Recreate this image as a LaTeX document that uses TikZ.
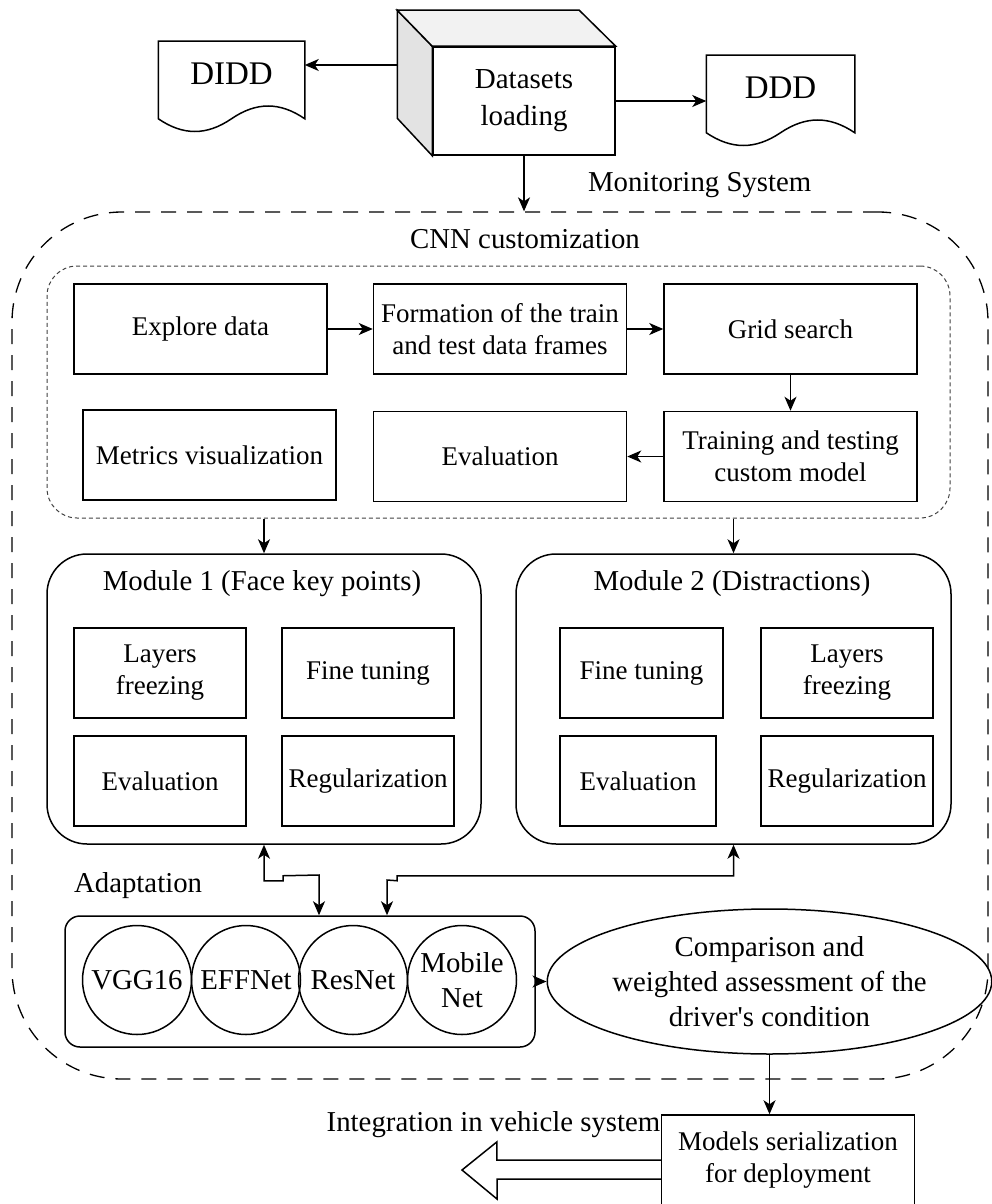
\documentclass[tikz,border=0pt]{standalone}
\usepackage{fontspec}
\setmainfont{Liberation Serif}
\usetikzlibrary{arrows.meta,calc,positioning,shapes.geometric}

\newcommand\boxfnt{\fontsize{27}{32}\selectfont}
\newcommand\lblfnt{\fontsize{28.8}{35}\selectfont}

\begin{document}
\begin{tikzpicture}[
  x=1pt, y=-1pt,
  line width=1.5pt,
  task/.style={draw, minimum width=253pt, minimum height=90pt, inner sep=1pt, align=center, font=\boxfnt},
  subtask/.style={draw, minimum width=172pt, minimum height=90pt, inner sep=1pt, align=center, font=\boxfnt},
  module/.style={draw, rounded corners=40pt, minimum width=434pt, minimum height=290pt},
  net/.style={draw, circle, minimum size=109pt, inner sep=0pt, align=center, font=\lblfnt},
  doc/.style={minimum width=145pt, minimum height=64pt, inner sep=0pt, font=\fontsize{33}{38}\selectfont},
  note/.style={font=\lblfnt},
  flow/.style={-{Stealth[length=14pt,width=12pt,inset=4pt]}},
  twoway/.style={{Stealth[length=14pt,width=12pt,inset=4pt]}-{Stealth[length=14pt,width=12pt,inset=4pt]}}
]
\useasboundingbox (0,0) rectangle (992,1204);

% --- outer system frame ---
\node[draw, line width=1.3pt, dash pattern=on 15pt off 11pt, rounded corners=110pt,
      minimum width=976pt, minimum height=867pt] (sys) at (500,645.5) {};
\node[note, anchor=west] (systitle) at (584,185) {Monitoring System};

% --- datasets cube ---
\node[draw, fill=white, minimum width=182pt, minimum height=108pt, align=center,
      font=\fontsize{29}{37}\selectfont] (load) at (524,101) {Datasets\\loading};
\draw[fill=gray!22] (load.north west) -- ++(-35,-36) -- ++(0,108) -- (load.south west) -- cycle;
\draw[fill=gray!10] (load.north west) -- ++(-35,-36) -- ++(182,0) -- (load.north east) -- cycle;

% --- document shapes (wavy bottom) ---
\node[doc] (didd) at (231.5,74) {DIDD};
\node[doc, minimum width=147pt] (ddd) at (780.5,88) {DDD};
\foreach \d in {didd,ddd} {
  \draw (\d.north west) -- (\d.north east) -- ($(\d.south east)+(0,12)$)
    .. controls ($(\d.south east)!0.17!(\d.south west)+(0,-5)$) and ($(\d.south east)!0.33!(\d.south west)+(0,-5)$)
    .. ($(\d.south east)!0.5!(\d.south west)+(0,12)$)
    .. controls ($(\d.south east)!0.67!(\d.south west)+(0,29)$) and ($(\d.south east)!0.83!(\d.south west)+(0,29)$)
    .. ($(\d.south west)+(0,12)$) -- cycle;
}

\coordinate (side) at (398,65);
\draw[flow] (side) -- (side -| didd.east);
\draw[flow] (load.east) -- (load.east -| ddd.west);
\draw[flow] (load.south) -- (load.south |- sys.north);

% --- CNN customization ---
\node[note] (cnntitle) at (525,239) {CNN customization};
\node[draw, line width=1pt, black!75, dash pattern=on 4pt off 3pt, rounded corners=30pt,
      minimum width=903pt, minimum height=252pt] (cnn) at (498.5,392) {};

\node[task] (explore) at (200.5,329) {Explore data};
\node[task, right=45pt of explore] (frame) {Formation of the train\\and test data frames};
\node[task, right=36pt of frame] (grid) {Grid search};
\node[task, below=36pt of grid] (train) {Training and testing\\custom model};
\node[task, left=36pt of train] (evalc) {Evaluation};
\node[task] (metrics) at (209.5,455) {Metrics visualization};

\draw[flow] (explore) -- (frame);
\draw[flow] (frame) -- (grid);
\draw[flow] (grid) -- (train);
\draw[flow] (train) -- (evalc);

% --- modules ---
\node[module] (mod1) at (264,699) {};
\node[module, minimum width=435pt] (mod2) at (733.5,699) {};
\node[note] (title1) at ($(mod1.north)+(-2,30)$) {Module 1 (Face key points)};
\node[note] (title2) at ($(mod2.north)+(-1.5,30)$) {Module 2 (Distractions)};

\draw[flow] (cnn.south -| mod1.north) -- (mod1.north);
\draw[flow] (cnn.south -| mod2.north) -- (mod2.north);

\node[subtask] (lf1) at (160,673) {Layers\\freezing};
\node[subtask] (ft1) at (368,673) {Fine tuning};
\node[subtask] (ev1) at (160,781) {Evaluation};
\node[subtask] (rg1) at (368,781) {Regularization};

\node[subtask, minimum width=163pt] (ft2) at (641.5,673) {Fine tuning};
\node[subtask] (lf2) at (847,673) {Layers\\freezing};
\node[subtask, minimum width=156pt] (ev2) at (638,781) {Evaluation};
\node[subtask] (rg2) at (847,781) {Regularization};

% --- adaptation of pretrained nets ---
\node[note, anchor=west] (adtitle) at (70,886) {Adaptation};
\node[draw, rounded corners=15pt, minimum width=470pt, minimum height=131pt] (adapt) at (300,981.5) {};
\foreach \x/\n/\t in {137/vgg/VGG16, 246/eff/EFFNet, 353/res/ResNet, 462/mob/{Mobile\\Net}} {
  \node[net] (\n) at (\x,980) {\t};
}

\coordinate (j1) at (319,875);
\draw[twoway] (mod1.south) -- ++(0,36) -- ++(19,0) -- ++(0,-5) -- (j1) -- (j1 |- adapt.north);
\coordinate (j2) at (387,880);
\draw[twoway] (mod2.south) -- ++(0,31) -- ++(-336.5,0) -- ++(0,5) -- (j2) -- (j2 |- adapt.north);

% --- assessment and deployment ---
\node[draw, ellipse, minimum width=329pt, minimum height=145pt, inner sep=0pt, align=center,
      font=\lblfnt] (cmp) at (769.5,981.5) {Comparison and\\weighted assessment of the\\driver\textquotesingle s condition};
\draw[flow] (adapt.east) -- (cmp.west);

\node[task, minimum height=91pt] (models) at (788,1160.5) {Models serialization\\for deployment};
\draw[flow] (cmp.south) -- (cmp.south |- models.north);

% hollow arrow out of the system
\coordinate (tip) at (462,1170);
\draw (models.west) ++(0,-0.5) -- ++(-164,0) -- ++(0,-18) -- (tip) -- ++(35,29) -- ++(0,-20) -- ++(164,0);
\node[note, anchor=east, inner sep=0pt] (integ) at (661,1125) {Integration in vehicle system};

\end{tikzpicture}
\end{document}
